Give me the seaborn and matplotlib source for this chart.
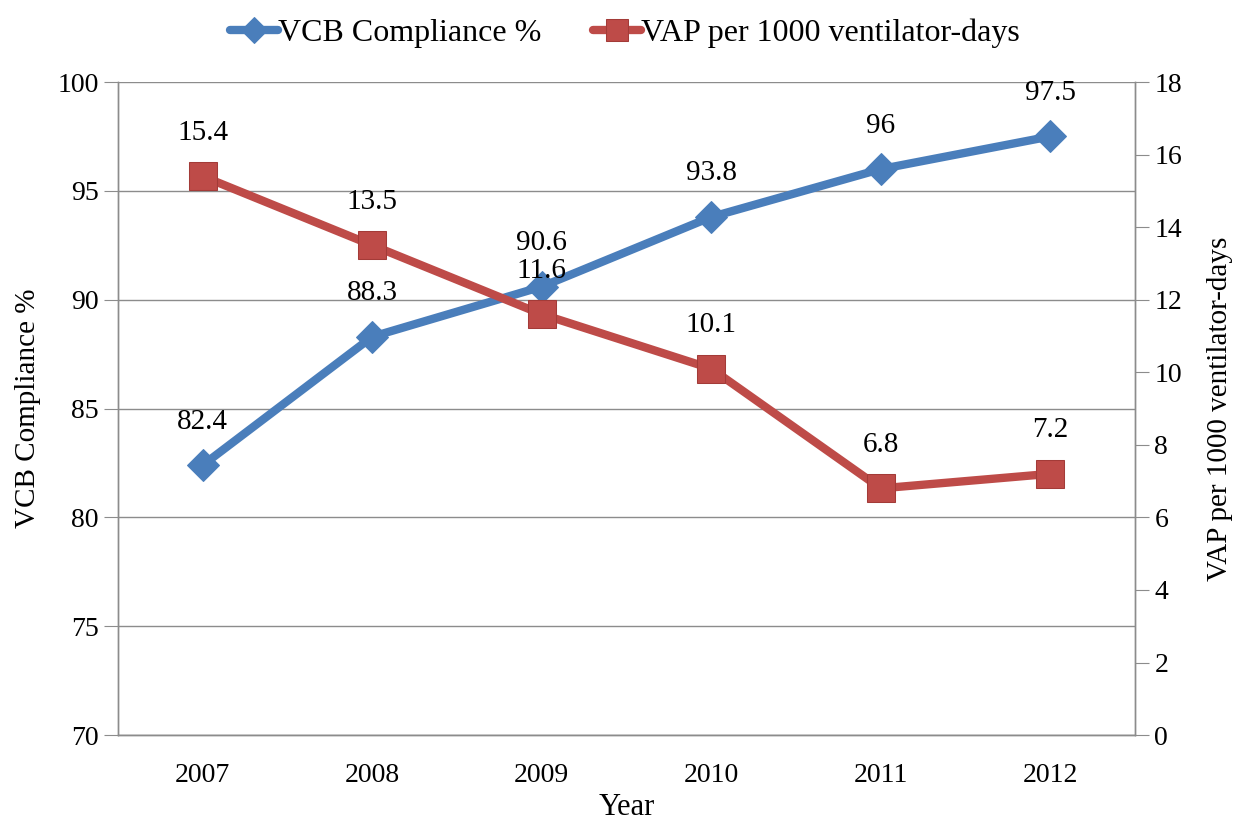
import numpy as np
import pandas as pd
import matplotlib.pyplot as plt
import seaborn as sns

years = ["2007", "2008", "2009", "2010", "2011", "2012"]
vcb = [82.4, 88.3, 90.6, 93.8, 96, 97.5]
vap = [15.4, 13.5, 11.6, 10.1, 6.8, 7.2]
vcb_labels = ["82.4", "88.3", "90.6", "93.8", "96", "97.5"]
vap_labels = ["15.4", "13.5", "11.6", "10.1", "6.8", "7.2"]

sns.set_style("white")
plt.rcParams['font.family'] = ['Liberation Serif', 'DejaVu Serif']
plt.rcParams['text.color'] = 'black'
plt.rcParams['xtick.labelcolor'] = 'black'
plt.rcParams['ytick.labelcolor'] = 'black'
plt.rcParams['axes.labelcolor'] = 'black'

blue = "#4A7EBB"
red = "#BE4B48"
grey = "#8C8C8C"

df = pd.DataFrame({"pos": np.arange(len(years)), "year": years, "vcb": vcb, "vap": vap})

fig = plt.figure(figsize=(12.5, 8.25), dpi=100)
ax = fig.add_axes([0.0944, 0.109, 0.8136, 0.7916])
ax2 = ax.twinx()

sns.lineplot(data=df, x="pos", y="vcb", ax=ax, color=blue, lw=6, marker="D",
             markersize=16, markeredgecolor=blue, label="VCB Compliance %", legend=False)
sns.lineplot(data=df, x="pos", y="vap", ax=ax2, color=red, lw=6, marker="s",
             markersize=20, markeredgecolor="#A33B38", markerfacecolor=red,
             label="VAP per 1000 ventilator-days", legend=False)

ax.set_xlim(-0.5, 5.5)
ax.set_ylim(70, 100)
ax2.set_ylim(0, 18)
ax.set_yticks(range(70, 101, 5))
ax2.set_yticks(range(0, 19, 2))

ax.set_xticks(df["pos"])
ax.set_xticklabels(years)
ax.set_xticks(np.arange(-0.5, 6, 1), minor=True)
ax.tick_params(axis="x", which="major", length=0, pad=20, labelsize=20)
ax.tick_params(axis="x", which="minor", length=10, color=grey, width=1)
ax.tick_params(axis="y", length=10, color=grey, labelsize=20, pad=4)
ax2.tick_params(axis="y", length=10, color=grey, labelsize=20, pad=4)

ax.yaxis.grid(True, color=grey, lw=1)
ax.set_axisbelow(True)
for a in (ax, ax2):
    for s in ["left", "right", "bottom"]:
        a.spines[s].set_color(grey)
        a.spines[s].set_linewidth(1)
    a.spines["top"].set_visible(False)

ax.set_xlabel("Year", fontsize=22, labelpad=4)
ax.set_ylabel("VCB Compliance %", fontsize=21, labelpad=12)
ax2.set_ylabel("VAP per 1000 ventilator-days", fontsize=21, labelpad=18)

for i, t in enumerate(vcb_labels):
    ax.annotate(t, (i, vcb[i]), xytext=(0, 22), textcoords="offset points",
                ha="center", va="bottom", fontsize=21)
for i, t in enumerate(vap_labels):
    ax2.annotate(t, (i, vap[i]), xytext=(0, 22), textcoords="offset points",
                 ha="center", va="bottom", fontsize=21)

h1, l1 = ax.get_legend_handles_labels()
h2, l2 = ax2.get_legend_handles_labels()
fig.legend(h1 + h2, l1 + l2, loc="upper center", bbox_to_anchor=(0.5, 1.012), ncol=2,
           frameon=False, fontsize=23, handlelength=1.5, handletextpad=0.0,
           columnspacing=1.6, markerscale=0.8)

fig.savefig("out.png", dpi=100)
